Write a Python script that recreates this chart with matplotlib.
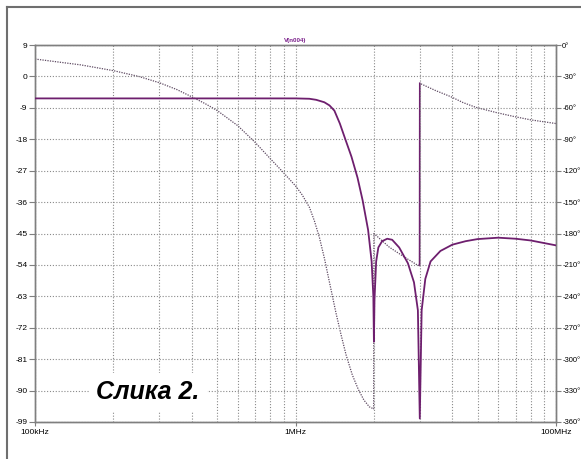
import matplotlib
matplotlib.use("Agg")
import matplotlib.pyplot as plt
from matplotlib.lines import Line2D
from matplotlib.ticker import FixedLocator, LogLocator, NullFormatter
import numpy as np

plt.rcParams['font.family'] = ['Liberation Sans', 'DejaVu Sans']

# magnitude of V(n004), dB
f_mag = [1e5, 5e5, 1e6, 1.13e6, 1.2e6, 1.29e6, 1.35e6, 1.41e6, 1.48e6, 1.55e6,
         1.64e6, 1.73e6, 1.81e6, 1.9e6, 1.96e6, 1.99e6, 2.0e6, 2.01e6, 2.04e6,
         2.08e6, 2.15e6, 2.25e6, 2.35e6, 2.5e6, 2.7e6, 2.85e6, 2.95e6, 3.0e6,
         3.05e6, 3.15e6, 3.3e6, 3.6e6, 4.0e6, 4.5e6, 5e6, 6e6, 7e6, 8e6, 1e7]
mag_db = [-6.3, -6.3, -6.3, -6.4, -6.7, -7.4, -8.3, -9.8, -13.5, -17.8,
          -23.0, -29.0, -35.5, -44.0, -53.0, -63.0, -76.0, -64.0, -53.0,
          -49.0, -47.2, -46.5, -46.8, -49.0, -53.5, -59.0, -67.0, -98.0,
          -67.0, -58.0, -53.0, -50.0, -48.2, -47.2, -46.6, -46.2, -46.5, -47.0, -48.4]

# phase, degrees
f_ph = [1e5, 1.5e5, 2e5, 2.5e5, 3e5, 3.5e5, 4e5, 4.5e5, 5e5, 6e5, 7e5, 8e5, 9e5,
        1e6, 1.06e6, 1.131e6, 1.182e6, 1.236e6, 1.292e6, 1.37e6, 1.432e6, 1.497e6,
        1.564e6, 1.652e6, 1.743e6, 1.83e6, 1.92e6, 1.995e6, 2.0e6,
        2.29e6, 2.6e6, 2.93e6, 2.995e6, 3.0e6,
        3.45e6, 3.95e6, 4.4e6, 4.92e6, 5.9e6, 6.9e6, 8e6, 1e7]
phase = [-13.4, -19.0, -24.5, -30.0, -36.0, -42.5, -49.5, -56.0, -62.5, -77.0, -93.0, -108.5, -122.0,
         -134.5, -143.0, -155.0, -168.0, -184.0, -204.0, -234.0, -256.5, -277.0,
         -296.0, -315.0, -329.0, -339.0, -345.5, -347.5, -180.0,
         -193.0, -202.0, -210.0, -210.5, -36.6,
         -43.5, -49.4, -55.0, -59.5, -64.5, -68.3, -71.5, -75.0]

db_ticks = list(range(-99, 10, 9))
ph_ticks = list(range(-360, 1, 30))
x_ticks = [1e5, 1e6, 1e7]
x_labels = ["100kHz", "1MHz", "100MHz"]

fig = plt.figure(figsize=(5.81, 4.59), dpi=100)
ax = fig.add_axes([35/581, 1-422/459, 521/581, 377/459])
ax2 = ax.twinx()

spine_c = '#7f7f7f'
grid_kw = dict(color='#8a8a8a', linewidth=0.8, linestyle=(0, (1, 1.6)))

ax.set_xscale('log')
ax.set_xlim(1e5, 1e7)
ax.set_ylim(-99, 9)
ax.yaxis.set_major_locator(FixedLocator(db_ticks))
ax.set_yticklabels([str(v) for v in db_ticks])
ax.xaxis.set_major_locator(FixedLocator(x_ticks))
ax.set_xticklabels(x_labels)
ax.xaxis.set_minor_locator(LogLocator(base=10, subs=np.arange(2, 10)))
ax.xaxis.set_minor_formatter(NullFormatter())
ax.grid(True, which='both', axis='x', **grid_kw)
ax.grid(True, which='major', axis='y', **grid_kw)
ax.tick_params(axis='x', which='major', length=3, color=spine_c, labelsize=6, pad=2)
ax.tick_params(axis='x', which='minor', length=0)
ax.tick_params(axis='y', length=4, color=spine_c, labelsize=6, pad=1.5)

ax2.set_ylim(-360, 0)
ax2.yaxis.set_major_locator(FixedLocator(ph_ticks))
ax2.set_yticklabels([f"{v}°" for v in ph_ticks])
ax2.tick_params(axis='y', length=3.5, color=spine_c, labelsize=5.5, pad=1)

for a in (ax, ax2):
    for s in a.spines.values():
        s.set_color(spine_c)
        s.set_linewidth(1.0)

# phase trace (dotted), with the jump at 3 MHz drawn solid
ax2.plot(f_ph, phase, color='#5e4a62', linewidth=0.9, linestyle=(0, (1, 1)), zorder=3)
j = f_ph.index(3.0e6)
ax2.plot(f_ph[j-1:j+1], phase[j-1:j+1], color='#6e1f6e', linewidth=1.2, zorder=3)

# magnitude trace (solid)
ax.plot(f_mag, mag_db, color='#6e1f6e', linewidth=1.3, zorder=4)
ax.set_zorder(ax2.get_zorder() + 1)
ax.patch.set_visible(False)

ax.set_title("V(n004)", color='#7a1f8a', fontsize=4.5, fontweight='bold', pad=2)

ax.text(1.72e5, -90.3, "Слика 2.", fontsize=18, fontweight='bold', fontstyle='italic',
        ha='left', va='center', zorder=5,
        bbox=dict(facecolor='white', edgecolor='none', pad=5))

# outer frame edges
fig.add_artist(Line2D([7/581, 7/581], [0, 1-7/459], color='#6f6f6f', linewidth=1.5))
fig.add_artist(Line2D([7/581, 1], [1-7/459, 1-7/459], color='#6f6f6f', linewidth=1.5))

fig.savefig("out.png", dpi=100)
